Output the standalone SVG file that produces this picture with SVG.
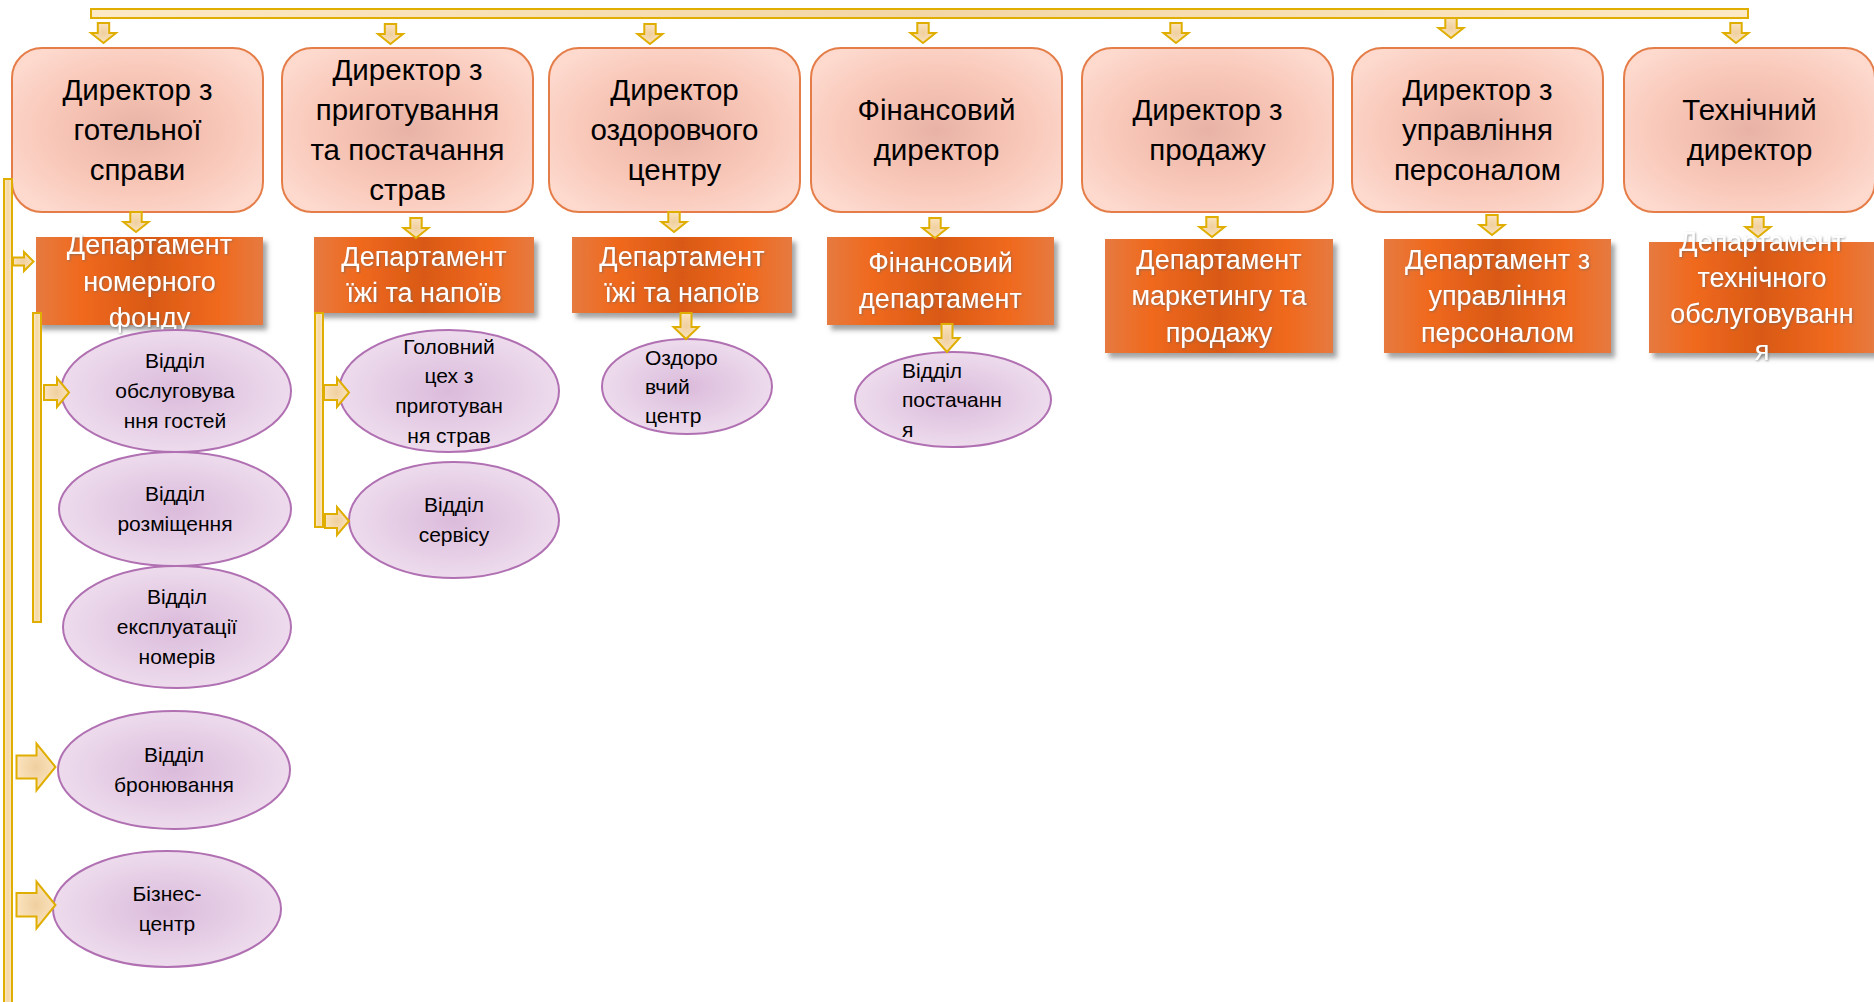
<svg xmlns="http://www.w3.org/2000/svg" width="1874" height="1002" viewBox="0 0 1874 1002">
<defs>
<radialGradient id="gBox" cx="0.5" cy="0.5" r="0.6">
<stop offset="0" stop-color="#e8b3a6"/>
<stop offset="0.55" stop-color="#f8c6b7"/>
<stop offset="1" stop-color="#fdd9ce"/>
</radialGradient>
<linearGradient id="gDept" x1="0" y1="0" x2="1" y2="0">
<stop offset="0" stop-color="#e67a40"/>
<stop offset="0.2" stop-color="#f0691d"/>
<stop offset="0.5" stop-color="#d95916"/>
<stop offset="0.8" stop-color="#f0691d"/>
<stop offset="1" stop-color="#e67a40"/>
</linearGradient>
<radialGradient id="gEll" cx="0.5" cy="0.5" r="0.55">
<stop offset="0" stop-color="#dbbbdb"/>
<stop offset="1" stop-color="#efdfef"/>
</radialGradient>
<radialGradient id="gArr" cx="0.5" cy="0.5" r="0.6">
<stop offset="0" stop-color="#efcf9f"/>
<stop offset="1" stop-color="#fde7c4"/>
</radialGradient>
<linearGradient id="gBarV" x1="0" y1="0" x2="1" y2="0">
<stop offset="0" stop-color="#fdebc8"/>
<stop offset="0.5" stop-color="#f4d7a6"/>
<stop offset="1" stop-color="#fdebc8"/>
</linearGradient>
<linearGradient id="gBarH" x1="0" y1="0" x2="1" y2="0">
<stop offset="0" stop-color="#fde9c6"/>
<stop offset="0.5" stop-color="#f3d6a6"/>
<stop offset="1" stop-color="#fde9c6"/>
</linearGradient>
<filter id="shadow" x="-10%" y="-10%" width="130%" height="140%">
<feDropShadow dx="4" dy="5" stdDeviation="2.5" flood-color="#555" flood-opacity="0.55"/>
</filter>
<filter id="tshadow" x="-10%" y="-30%" width="120%" height="160%">
<feDropShadow dx="1" dy="1" stdDeviation="1" flood-color="#666" flood-opacity="0.6"/>
</filter>
</defs>
<style>
.box{fill:url(#gBox);stroke:#e57d48;stroke-width:2}
.dept{fill:url(#gDept);filter:url(#shadow)}
.ell{fill:url(#gEll);stroke:#b070b2;stroke-width:2}
.arr{fill:url(#gArr);stroke:#dfae00;stroke-width:2;stroke-linejoin:miter}
.barv{fill:url(#gBarV);stroke:#dfae00;stroke-width:2}
.barh{fill:url(#gBarH);stroke:#dfae00;stroke-width:2}
.tb{font-family:"Liberation Sans",Arial,sans-serif;font-size:29.5px;fill:#000;text-anchor:middle}
.td{font-family:"Liberation Sans",Arial,sans-serif;font-size:27px;fill:#fff;text-anchor:middle;filter:url(#tshadow)}
.te{font-family:"Liberation Sans",Arial,sans-serif;font-size:21px;fill:#000;text-anchor:middle}
.tl{font-family:"Liberation Sans",Arial,sans-serif;font-size:21px;fill:#000}
</style>
<rect width="1874" height="1002" fill="#fff"/>

<g id="dir1"><rect class="box" x="12" y="48" width="251" height="164" rx="30"/>
<text class="tb"><tspan x="137.5" y="100">Директор з</tspan><tspan x="137.5" y="140">готельної</tspan><tspan x="137.5" y="180">справи</tspan></text></g>
<g id="dir2"><rect class="box" x="282" y="48" width="251" height="164" rx="30"/>
<text class="tb"><tspan x="407.5" y="80">Директор з</tspan><tspan x="407.5" y="120">приготування</tspan><tspan x="407.5" y="160">та постачання</tspan><tspan x="407.5" y="200">страв</tspan></text></g>
<g id="dir3"><rect class="box" x="549" y="48" width="251" height="164" rx="30"/>
<text class="tb"><tspan x="674.5" y="100">Директор</tspan><tspan x="674.5" y="140">оздоровчого</tspan><tspan x="674.5" y="180">центру</tspan></text></g>
<g id="dir4"><rect class="box" x="811" y="48" width="251" height="164" rx="30"/>
<text class="tb"><tspan x="936.5" y="120">Фінансовий</tspan><tspan x="936.5" y="160">директор</tspan></text></g>
<g id="dir5"><rect class="box" x="1082" y="48" width="251" height="164" rx="30"/>
<text class="tb"><tspan x="1207.5" y="120">Директор з</tspan><tspan x="1207.5" y="160">продажу</tspan></text></g>
<g id="dir6"><rect class="box" x="1352" y="48" width="251" height="164" rx="30"/>
<text class="tb"><tspan x="1477.5" y="100">Директор з</tspan><tspan x="1477.5" y="140">управління</tspan><tspan x="1477.5" y="180">персоналом</tspan></text></g>
<g id="dir7"><rect class="box" x="1624" y="48" width="251" height="164" rx="30"/>
<text class="tb"><tspan x="1749.5" y="120">Технічний</tspan><tspan x="1749.5" y="160">директор</tspan></text></g>

<g id="dept1"><rect class="dept" x="36" y="237" width="227" height="88"/>
<text class="td"><tspan x="149.5" y="254">Департамент</tspan><tspan x="149.5" y="291">номерного</tspan><tspan x="149.5" y="327">фонду</tspan></text></g>
<g id="dept2"><rect class="dept" x="314" y="237" width="220" height="76"/>
<text class="td"><tspan x="424" y="266">Департамент</tspan><tspan x="424" y="302">їжі та напоїв</tspan></text></g>
<g id="dept3"><rect class="dept" x="572" y="237" width="220" height="76"/>
<text class="td"><tspan x="682" y="266">Департамент</tspan><tspan x="682" y="302">їжі та напоїв</tspan></text></g>
<g id="dept4"><rect class="dept" x="827" y="237" width="227" height="88"/>
<text class="td"><tspan x="940.5" y="272">Фінансовий</tspan><tspan x="940.5" y="308">департамент</tspan></text></g>
<g id="dept5"><rect class="dept" x="1105" y="239" width="228" height="114"/>
<text class="td"><tspan x="1219" y="269">Департамент</tspan><tspan x="1219" y="305">маркетингу та</tspan><tspan x="1219" y="342">продажу</tspan></text></g>
<g id="dept6"><rect class="dept" x="1384" y="239" width="227" height="114"/>
<text class="td"><tspan x="1497.5" y="269">Департамент з</tspan><tspan x="1497.5" y="305">управління</tspan><tspan x="1497.5" y="342">персоналом</tspan></text></g>
<g id="dept7"><rect class="dept" x="1649" y="242" width="226" height="111"/>
<text class="td"><tspan x="1762" y="251">Департамент</tspan><tspan x="1762" y="287">технічного</tspan><tspan x="1762" y="323">обслуговуванн</tspan><tspan x="1762" y="360">я</tspan></text></g>

<g id="unit1"><ellipse class="ell" cx="176" cy="391" rx="115" ry="61"/>
<text class="te"><tspan x="175" y="368">Відділ</tspan><tspan x="175" y="398">обслуговува</tspan><tspan x="175" y="428">ння гостей</tspan></text></g>
<g id="unit2"><ellipse class="ell" cx="175" cy="509" rx="116" ry="57"/>
<text class="te"><tspan x="175" y="501">Відділ</tspan><tspan x="175" y="531">розміщення</tspan></text></g>
<g id="unit3"><ellipse class="ell" cx="177" cy="627" rx="114" ry="61"/>
<text class="te"><tspan x="177" y="604">Відділ</tspan><tspan x="177" y="634">експлуатації</tspan><tspan x="177" y="664">номерів</tspan></text></g>
<g id="unit4"><ellipse class="ell" cx="174" cy="770" rx="116" ry="59"/>
<text class="te"><tspan x="174" y="762">Відділ</tspan><tspan x="174" y="792">бронювання</tspan></text></g>
<g id="unit5"><ellipse class="ell" cx="167" cy="909" rx="114" ry="58"/>
<text class="te"><tspan x="167" y="901">Бізнес-</tspan><tspan x="167" y="931">центр</tspan></text></g>
<g id="unit6"><ellipse class="ell" cx="449" cy="391" rx="110" ry="61"/>
<text class="te"><tspan x="449" y="354">Головний</tspan><tspan x="449" y="383">цех з</tspan><tspan x="449" y="413">приготуван</tspan><tspan x="449" y="443">ня страв</tspan></text></g>
<g id="unit7"><ellipse class="ell" cx="454" cy="520" rx="105" ry="58"/>
<text class="te"><tspan x="454" y="512">Відділ</tspan><tspan x="454" y="542">сервісу</tspan></text></g>
<g id="unit8"><ellipse class="ell" cx="687" cy="386.5" rx="85" ry="47.5"/>
<text class="tl"><tspan x="645" y="365">Оздоро</tspan><tspan x="645" y="394">вчий</tspan><tspan x="645" y="423">центр</tspan></text></g>
<g id="unit9"><ellipse class="ell" cx="953" cy="399.5" rx="98" ry="47.5"/>
<text class="tl"><tspan x="902" y="378">Відділ</tspan><tspan x="902" y="407">постачанн</tspan><tspan x="902" y="437">я</tspan></text></g>

<g id="connectors">
<rect class="barh" x="91" y="9" width="1657" height="9"/>
<rect class="barv" x="4" y="179" width="8" height="840"/>
<rect class="barv" x="33" y="313" width="8" height="309"/>
<rect class="barv" x="315" y="313" width="8" height="214"/>
<path class="arr" d="M97.8,23 h11.4 v10 h6.8 l-12.5,10 l-12.5,-10 h6.8 z"/>
<path class="arr" d="M384.8,24 h11.4 v10 h6.8 l-12.5,10 l-12.5,-10 h6.8 z"/>
<path class="arr" d="M644.3,24 h11.4 v10 h6.8 l-12.5,10 l-12.5,-10 h6.8 z"/>
<path class="arr" d="M917.3,23 h11.4 v10 h6.8 l-12.5,10 l-12.5,-10 h6.8 z"/>
<path class="arr" d="M1170.3,23 h11.4 v10 h6.8 l-12.5,10 l-12.5,-10 h6.8 z"/>
<path class="arr" d="M1445.3,18 h11.4 v10 h6.8 l-12.5,10 l-12.5,-10 h6.8 z"/>
<path class="arr" d="M1730.3,23 h11.4 v10 h6.8 l-12.5,10 l-12.5,-10 h6.8 z"/>
<path class="arr" d="M130.3,212 h11.4 v10 h6.8 l-12.5,10 l-12.5,-10 h6.8 z"/>
<path class="arr" d="M410.3,218 h11.4 v10 h6.8 l-12.5,10 l-12.5,-10 h6.8 z"/>
<path class="arr" d="M668.3,212 h11.4 v10 h6.8 l-12.5,10 l-12.5,-10 h6.8 z"/>
<path class="arr" d="M929.3,218 h11.4 v10 h6.8 l-12.5,10 l-12.5,-10 h6.8 z"/>
<path class="arr" d="M1206.3,217 h11.4 v10 h6.8 l-12.5,10 l-12.5,-10 h6.8 z"/>
<path class="arr" d="M1486.3,215 h11.4 v10 h6.8 l-12.5,10 l-12.5,-10 h6.8 z"/>
<path class="arr" d="M1752.3,217 h11.4 v10 h6.8 l-12.5,10 l-12.5,-10 h6.8 z"/>
<path class="arr" d="M680.5,313 h11 v14 h7 l-12.5,12 l-12.5,-12 h7 z"/>
<path class="arr" d="M941.5,324 h11 v14 h7 l-12.5,14 l-12.5,-14 h7 z"/>
<path class="arr" d="M13,257.5 h11 v-5.5 l9.5,9.5 l-9.5,9.5 v-5.5 h-11 z"/>
<path class="arr" d="M44,385 h13 v-7 l12,14.5 l-12,14.5 v-7 h-13 z"/>
<path class="arr" d="M324,385 h13 v-7 l12,14.5 l-12,14.5 v-7 h-13 z"/>
<path class="arr" d="M325,514 h12 v-7 l12,14 l-12,14 v-7 h-12 z"/>
<path class="arr" d="M16.5,755.5 h20 v-12 l19,23.5 l-19,23.5 v-12 h-20 z"/>
<path class="arr" d="M16.5,893 h20 v-11.5 l19,23.5 l-19,23.5 v-12 h-20 z"/>
</g>
</svg>
